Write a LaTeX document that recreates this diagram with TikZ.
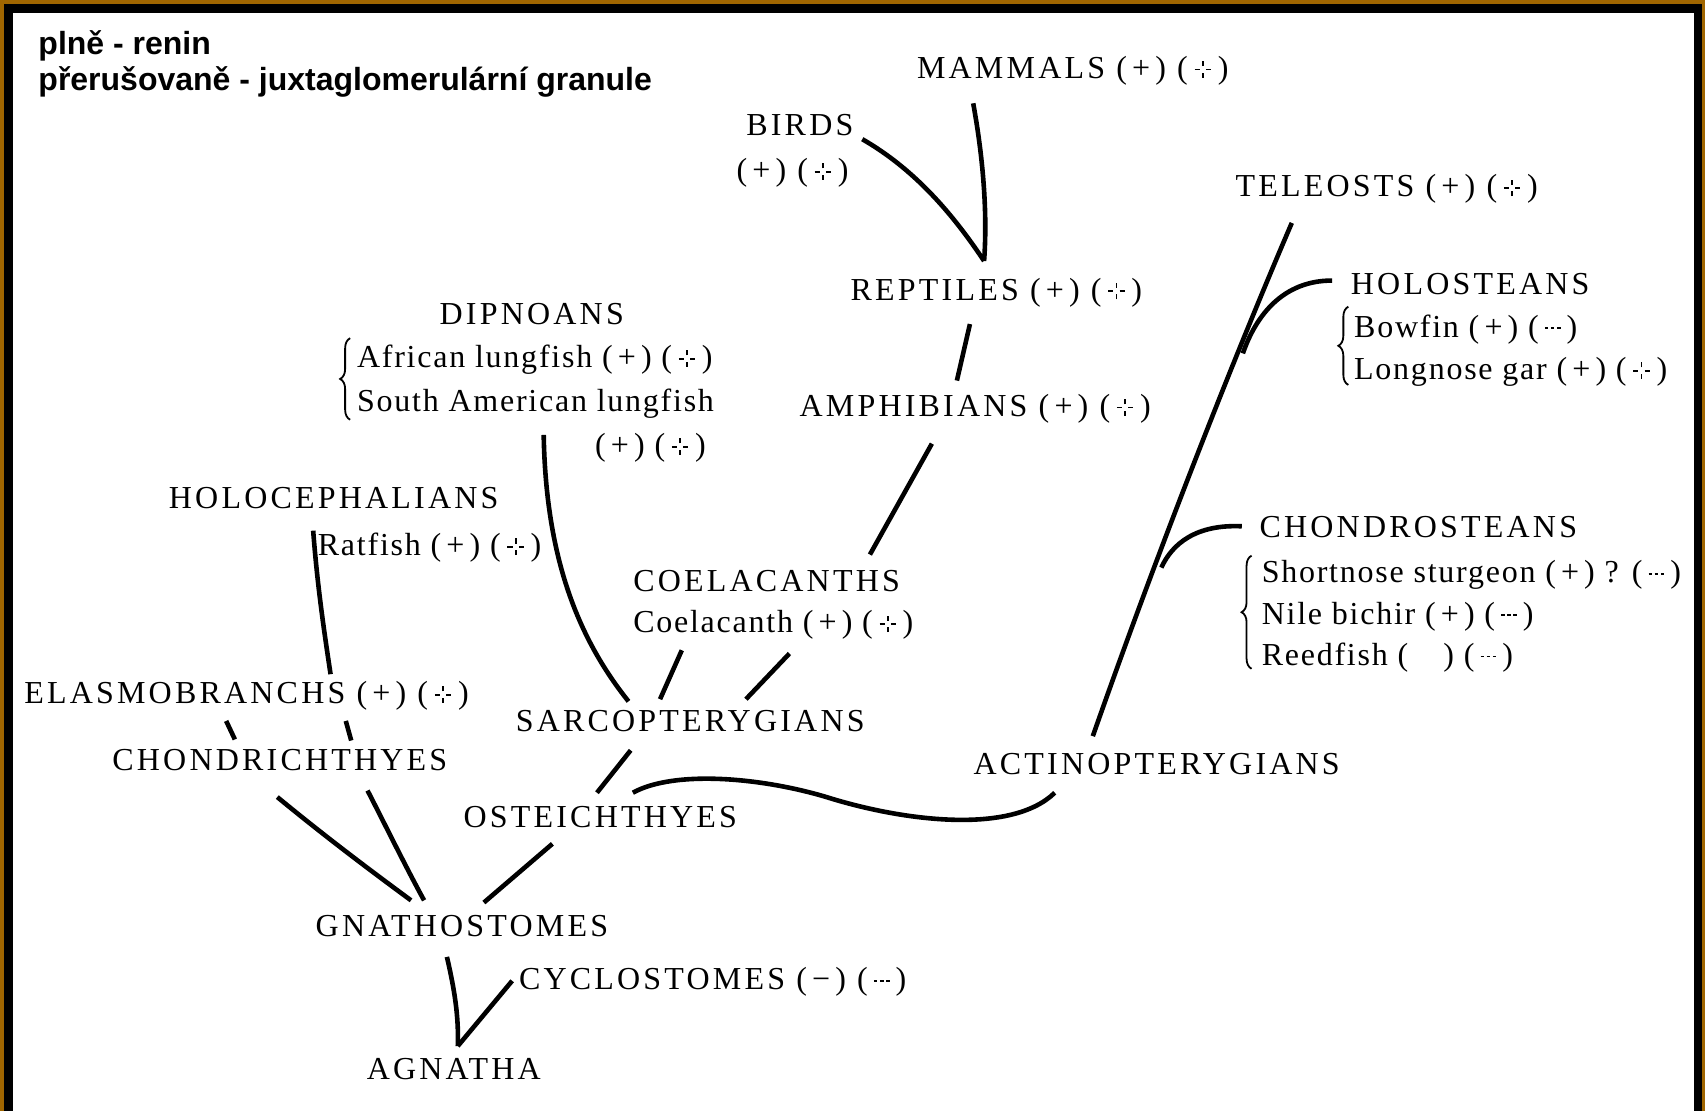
\documentclass[tikz,border=0pt]{standalone}
\usepackage{fontspec}
\setmainfont{Liberation Serif}
\newfontfamily\legendfont{Liberation Sans}
\newfontfamily\taxfont[LetterSpace=10]{Liberation Serif}
\newfontfamily\spfont[LetterSpace=5.5]{Liberation Serif}
\usepackage{xcolor}
\usetikzlibrary{decorations,decorations.pathreplacing}
\definecolor{framebrown}{RGB}{160,102,0}
% dashed plus and dashed minus marks
\newcommand{\dplus}{\hbox{\kern0.07em\rule[0.25em]{0.16em}{0.055em}\kern0.07em\rlap{\rule[0.38em]{0.055em}{0.16em}}\rule[0.02em]{0.055em}{0.16em}\kern0.07em\rule[0.25em]{0.16em}{0.055em}\kern0.07em}}
\newcommand{\dminus}{\hbox{\kern0.06em\rule[0.25em]{0.11em}{0.055em}\kern0.08em\rule[0.25em]{0.11em}{0.055em}\kern0.08em\rule[0.25em]{0.11em}{0.055em}\kern0.06em}}
\newcommand{\markplus}{(\kern0.16em+\kern0.16em)}
\newcommand{\markminus}{(\kern0.16em−\kern0.16em)}
\newcommand{\markdplus}{(\kern0.14em\dplus\kern0.14em)}
\newcommand{\markdminus}{(\kern0.13em\dminus\kern0.13em)}
\tikzstyle{taxon}=[anchor=base west, inner sep=0pt, font=\fontsize{16}{19}\taxfont]
\tikzstyle{species}=[anchor=base west, inner sep=0pt, font=\fontsize{16}{19}\spfont]
\tikzstyle{legend}=[anchor=base west, inner sep=0pt, font=\fontsize{16}{19}\legendfont\bfseries]
\tikzstyle{branch}=[line width=2.3pt]
\tikzstyle{grp}=[decorate, decoration={brace, amplitude=5pt}, line width=0.9pt]

\begin{document}
\begin{tikzpicture}[x=0.5437pt, y=-0.5437pt]
\useasboundingbox (0,0) rectangle (1568,1022);
\fill[framebrown] (0,0) rectangle (1568,1022);
\fill[black] (3.7,3.7) rectangle (1565.5,1022);
\fill[white] (12,12) rectangle (1558,1022);

\node[legend] (leg1) at (35,50) {plně - renin};
\node[legend] (leg2) at (35,83) {přerušovaně - juxtaglomerulární granule};

\node[taxon] (mammals) at (843,72) {MAMMALS \markplus\ \markdplus};
\node[taxon] (birds) at (686,125) {BIRDS};
\node[taxon] (birdsmark) at (677,166) {\markplus\ \markdplus};
\node[taxon] (teleosts) at (1136,181) {TELEOSTS \markplus\ \markdplus};
\node[taxon] (reptiles) at (782,276) {REPTILES \markplus\ \markdplus};
\node[taxon] (holosteans) at (1242,271) {HOLOSTEANS};
\node[species] (bowfin) at (1245,310) {Bowfin \markplus\ \markdminus};
\node[species] (gar) at (1245,349) {Longnose gar \markplus\ \markdplus};
\node[taxon] (dipnoans) at (404,298) {DIPNOANS};
\node[species] (afrlung) at (328,338) {African lungfish \markplus\ \markdplus};
\node[species] (samlung) at (328,378) {South American lungfish};
\node[species] (samlungmark) at (547,419) {\markplus\ \markdplus};
\node[taxon] (amphibians) at (735,383) {AMPHIBIANS \markplus\ \markdplus};
\node[taxon] (holoceph) at (155,468) {HOLOCEPHALIANS};
\node[species] (ratfish) at (292,511) {Ratfish \markplus\ \markdplus};
\node[taxon] (chondrost) at (1158,494) {CHONDROSTEANS};
\node[species] (sturgeon) at (1160,536) {Shortnose sturgeon \markplus\ ? \markdminus};
\node[species] (bichir) at (1160,574) {Nile bichir \markplus\ \markdminus};
\node[species] (reedfish) at (1160,612) {Reedfish (\hspace{1.1em}) \markdminus};
\node[taxon] (coelacanths) at (582,544) {COELACANTHS};
\node[species] (coelacanth) at (582,582) {Coelacanth \markplus\ \markdplus};
\node[taxon] (elasmo) at (22,647) {ELASMOBRANCHS \markplus\ \markdplus};
\node[taxon] (sarco) at (474,673) {SARCOPTERYGIANS};
\node[taxon] (chondrich) at (103,709) {CHONDRICHTHYES};
\node[taxon] (actino) at (895,712) {ACTINOPTERYGIANS};
\node[taxon] (osteich) at (426,761) {OSTEICHTHYES};
\node[taxon] (gnatho) at (290,861) {GNATHOSTOMES};
\node[taxon] (cyclo) at (477,910) {CYCLOSTOMES \markminus\ \markdminus};
\node[taxon] (agnatha) at (337,993) {AGNATHA};

% braces
\draw[grp] (322,386) -- (322,311);
\draw[grp] (1240,354) -- (1240,282);
\draw[grp] (1151,615) -- (1151,511);

% branch ends
\coordinate (mam-end) at (895,95);
\coordinate (bird-end) at (793,128);
\coordinate (rep-top) at (905,240);
\coordinate (rep-bot) at (892,298);
\coordinate (amph-top) at (880,350);
\coordinate (amph-bot) at (857,408);
\coordinate (coel-top) at (800,510);
\coordinate (tel-end) at (1188,205);
\coordinate (hol-end) at (1225,258);
\coordinate (hol-join) at (1143,325);
\coordinate (chs-end) at (1142,484);
\coordinate (chs-join) at (1068,522);
\coordinate (act-top) at (1005,677);
\coordinate (act-bot) at (970,729);
\coordinate (ost-right) at (582,729);
\coordinate (ost-top) at (549,729);
\coordinate (sar-bot) at (580,690);
\coordinate (dip-end) at (500,400);
\coordinate (sar-a) at (578,645);
\coordinate (coel-a) at (627,598);
\coordinate (sar-b) at (607,643);
\coordinate (coel-b) at (726,601);
\coordinate (sar-c) at (686,643);
\coordinate (rat-end) at (288,488);
\coordinate (ela-top) at (304,620);
\coordinate (chi-a) at (255,733);
\coordinate (chi-b) at (338,727);
\coordinate (gna-a) at (378,828);
\coordinate (gna-b) at (390,828);
\coordinate (ost-bot) at (508,776);
\coordinate (gna-c) at (445,830);
\coordinate (gna-bot) at (411,880);
\coordinate (cyc-end) at (471,902);
\coordinate (agn-top) at (421,962);

\draw[branch] (mam-end) .. controls (905,150) and (908,200) .. (rep-top);
\draw[branch] (bird-end) .. controls (840,155) and (875,195) .. (rep-top);
\draw[branch] (rep-bot) -- (amph-top);
\draw[branch] (amph-bot) -- (coel-top);
\draw[branch] (tel-end) .. controls (1130,340) and (1060,520) .. (act-top);
\draw[branch] (hol-end) .. controls (1180,258) and (1155,290) .. (hol-join);
\draw[branch] (chs-end) .. controls (1100,482) and (1078,500) .. (chs-join);
\draw[branch] (ost-right) .. controls (620,708) and (700,715) .. (760,733) .. controls (830,755) and (930,768) .. (act-bot);
\draw[branch] (ost-top) -- (sar-bot);
\draw[branch] (dip-end) .. controls (502,510) and (530,585) .. (sar-a);
\draw[branch] (coel-a) -- (sar-b);
\draw[branch] (coel-b) -- (sar-c);
\draw[branch] (rat-end) .. controls (292,540) and (298,580) .. (ela-top);
\draw[branch] (208,663) -- (216,680);
\draw[branch] (318,663) -- (323,681);
\draw[branch] (chi-a) .. controls (300,770) and (340,800) .. (gna-a);
\draw[branch] (chi-b) .. controls (355,760) and (372,795) .. (gna-b);
\draw[branch] (ost-bot) -- (gna-c);
\draw[branch] (gna-bot) .. controls (418,910) and (422,935) .. (agn-top);
\draw[branch] (cyc-end) -- (agn-top);
\end{tikzpicture}
\end{document}
